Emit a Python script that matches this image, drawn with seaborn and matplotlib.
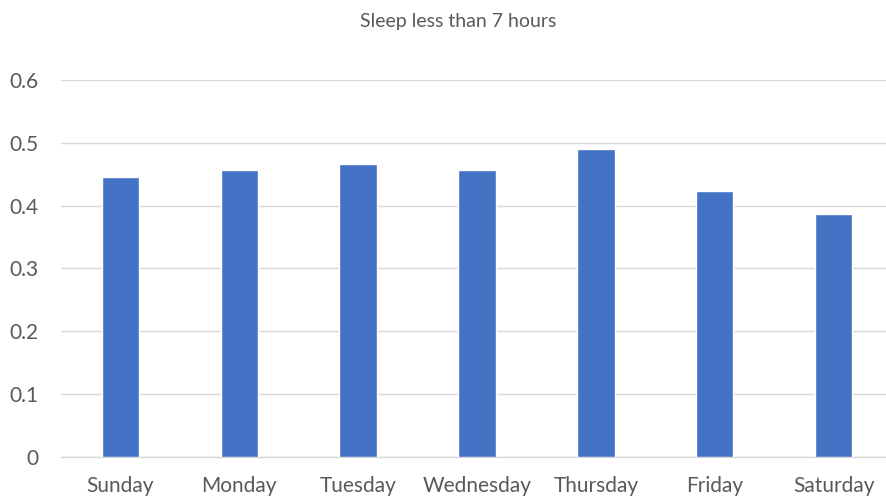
import matplotlib
matplotlib.use("Agg")
import matplotlib.pyplot as plt
import seaborn as sns
import pandas as pd

days = ["Sunday", "Monday", "Tuesday", "Wednesday", "Thursday", "Friday", "Saturday"]
share = [0.446, 0.457, 0.467, 0.457, 0.490, 0.423, 0.386]
yticks = [0, 0.1, 0.2, 0.3, 0.4, 0.5, 0.6]
ytick_labels = ["0", "0.1", "0.2", "0.3", "0.4", "0.5", "0.6"]

df = pd.DataFrame({"day": days, "share": share})

sns.set_style("white")
plt.rcParams["font.family"] = ["Lato", "DejaVu Sans"]
text_col = "#595959"

fig = plt.figure(figsize=(8.86, 4.98), dpi=100)
ax = fig.add_axes([61 / 886, 41.3 / 498, 832 / 886, 376.7 / 498])

sns.barplot(data=df, x="day", y="share", color="#4472C4", width=0.314,
            saturation=1, ax=ax, zorder=3)

ax.set_ylim(0, 0.6)
ax.set_xlim(-0.5, 6.5)
ax.set_yticks(yticks)
ax.set_yticklabels(ytick_labels)
ax.yaxis.grid(True, color="#D9D9D9", linewidth=1, zorder=0)
ax.set_axisbelow(True)
for s in ["top", "right", "left"]:
    ax.spines[s].set_visible(False)
ax.spines["bottom"].set_color("#D9D9D9")
ax.spines["bottom"].set_linewidth(1)
ax.tick_params(axis="both", length=0, labelsize=15, colors=text_col)
ax.tick_params(axis="y", pad=16)
ax.tick_params(axis="x", pad=14)
ax.set_xlabel("")
ax.set_ylabel("")

fig.text(458 / 886, 1 - 21 / 498, "Sleep less than 7 hours", ha="center", va="center",
         fontsize=14, color=text_col)

fig.savefig("out.png", dpi=100)
